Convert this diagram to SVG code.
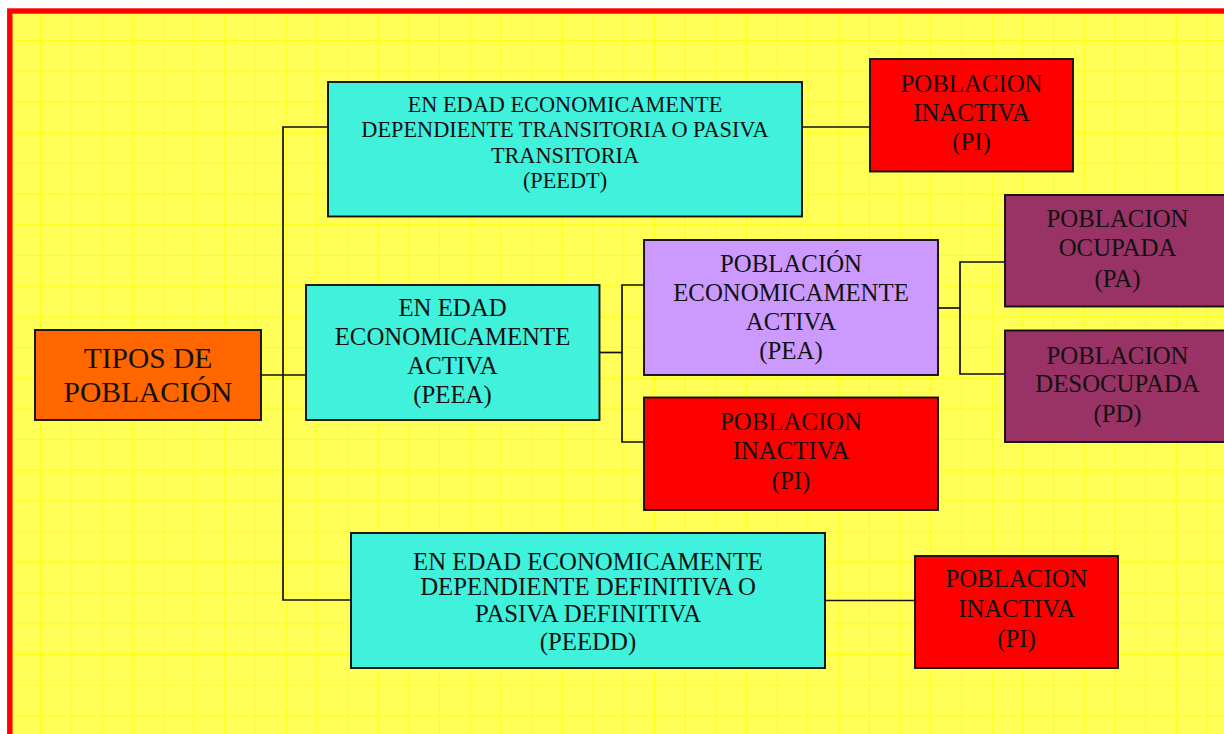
<svg xmlns="http://www.w3.org/2000/svg" width="1224" height="734" viewBox="0 0 1224 734">
<style>
.box{stroke:#111;stroke-width:1.9}
.t{font-family:"Liberation Serif","Times New Roman",serif;fill:#111;text-anchor:middle}
.f24{font-size:24.8px}
.f22{font-size:22.3px}
.f28{font-size:29.5px}
.conn line,.conn polyline{stroke:#111;stroke-width:1.7;fill:none}
</style>
<defs>
<pattern id="grid" x="9.3" y="9.3" width="30.7" height="30.7" patternUnits="userSpaceOnUse">
<rect width="30.7" height="30.7" fill="#ffff58"/>
<path d="M0 0H30.7M0 0V30.7" stroke="#ffff00" stroke-width="1.4"/>
</pattern>
</defs>
<rect width="1224" height="734" fill="#ffffff"/>
<rect x="9.8" y="11" width="1300" height="800" fill="url(#grid)" stroke="#ff0000" stroke-width="5.4"/>

<g class="conn">
<line x1="261" y1="375" x2="306" y2="375"/>
<polyline points="328,127 283,127 283,600 351,600"/>
<line x1="802" y1="127" x2="870" y2="127"/>
<line x1="599" y1="352.5" x2="622" y2="352.5"/>
<polyline points="644,285 622,285 622,442 644,442"/>
<line x1="938" y1="308" x2="960" y2="308"/>
<polyline points="1005,262 960,262 960,374 1005,374"/>
<line x1="825" y1="600.5" x2="915" y2="600.5"/>
</g>

<g id="tipos">
<rect class="box" x="35" y="330" width="226" height="90" fill="#ff6600"/>
<text class="t f28" x="148" y="368">TIPOS DE</text>
<text class="t f28" x="148" y="402">POBLACIÓN</text>
</g>

<g id="peedt">
<rect class="box" x="328" y="82" width="474" height="134.5" fill="#40f2dc"/>
<text class="t f22" x="565" y="111.5">EN EDAD ECONOMICAMENTE</text>
<text class="t f22" x="565" y="137">DEPENDIENTE TRANSITORIA O PASIVA</text>
<text class="t f22" x="565" y="162.5">TRANSITORIA</text>
<text class="t f22" x="565" y="188">(PEEDT)</text>
</g>

<g id="pi1">
<rect class="box" x="870" y="59" width="203" height="112.5" fill="#ff0000"/>
<text class="t f24" x="971.5" y="91.5">POBLACION</text>
<text class="t f24" x="971.5" y="120.5">INACTIVA</text>
<text class="t f24" x="971.5" y="150">(PI)</text>
</g>

<g id="peea">
<rect class="box" x="306" y="285" width="293.5" height="135" fill="#40f2dc"/>
<text class="t f24" x="452.5" y="316">EN EDAD</text>
<text class="t f24" x="452.5" y="345">ECONOMICAMENTE</text>
<text class="t f24" x="452.5" y="374">ACTIVA</text>
<text class="t f24" x="452.5" y="403">(PEEA)</text>
</g>

<g id="pea">
<rect class="box" x="644" y="240" width="294" height="135" fill="#cc99ff"/>
<text class="t f24" x="791" y="272">POBLACIÓN</text>
<text class="t f24" x="791" y="301">ECONOMICAMENTE</text>
<text class="t f24" x="791" y="330">ACTIVA</text>
<text class="t f24" x="791" y="358.5">(PEA)</text>
</g>

<g id="pi2">
<rect class="box" x="644" y="397.5" width="294" height="112.5" fill="#ff0000"/>
<text class="t f24" x="791" y="429.5">POBLACION</text>
<text class="t f24" x="791" y="458.5">INACTIVA</text>
<text class="t f24" x="791" y="489">(PI)</text>
</g>

<g id="pa">
<rect class="box" x="1005" y="195" width="240" height="111.5" fill="#993366"/>
<text class="t f24" x="1117.5" y="227">POBLACION</text>
<text class="t f24" x="1117.5" y="256">OCUPADA</text>
<text class="t f24" x="1117.5" y="286.5">(PA)</text>
</g>

<g id="pd">
<rect class="box" x="1005" y="330.5" width="240" height="111.5" fill="#993366"/>
<text class="t f24" x="1117.5" y="363.5">POBLACION</text>
<text class="t f24" x="1117.5" y="391.5">DESOCUPADA</text>
<text class="t f24" x="1117.5" y="421.5">(PD)</text>
</g>

<g id="peedd">
<rect class="box" x="351" y="533" width="474" height="135" fill="#40f2dc"/>
<text class="t f24" x="588" y="569.5">EN EDAD ECONOMICAMENTE</text>
<text class="t f24" x="588" y="595">DEPENDIENTE DEFINITIVA O</text>
<text class="t f24" x="588" y="621.5">PASIVA DEFINITIVA</text>
<text class="t f24" x="588" y="650">(PEEDD)</text>
</g>

<g id="pi3">
<rect class="box" x="915" y="556" width="203" height="112" fill="#ff0000"/>
<text class="t f24" x="1016.5" y="587">POBLACION</text>
<text class="t f24" x="1016.5" y="616.5">INACTIVA</text>
<text class="t f24" x="1016.5" y="647">(PI)</text>
</g>
</svg>
